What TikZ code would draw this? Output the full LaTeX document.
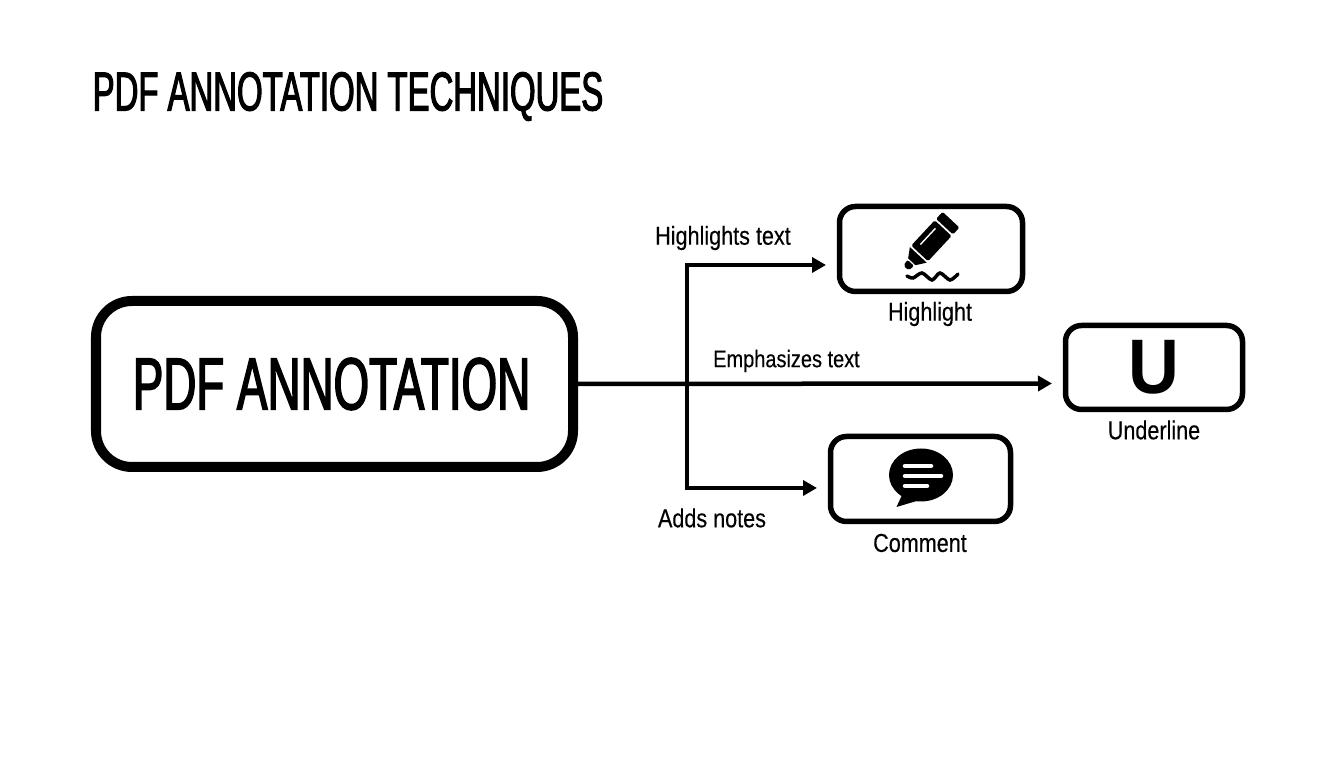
\documentclass[tikz,border=0pt]{standalone}
\usepackage{fontspec}
\setmainfont[FakeStretch=0.83, FakeBold=0.25]{Liberation Sans}
\newfontfamily\titlefont[FakeStretch=0.60, FakeBold=2]{Liberation Sans}
\newfontfamily\boxfont[FakeStretch=0.62, FakeBold=2]{Liberation Sans}
\newfontfamily\letterfont[FakeStretch=0.91]{Liberation Sans Bold}
\usetikzlibrary{arrows.meta}
\tikzset{
	bigbox/.style={draw=black, line width=0.1cm, rounded corners=0.36cm, minimum width=4.77cm, minimum height=1.66cm, inner sep=0pt, outer sep=0pt, fill=white},
	iconbox/.style={draw=black, line width=0.055cm, rounded corners=0.16cm, inner sep=0pt, outer sep=0pt, fill=white},
	link/.style={line width=0.045cm, -{Triangle[length=0.14cm, width=0.15cm]}},
	boxlabel/.style={font=\fontsize{7.4pt}{9pt}\selectfont, inner sep=0pt, text=black}
}
\begin{document}
\begin{tikzpicture}
		\useasboundingbox[fill=white] (0, 0) rectangle (13.44, 7.68);
		%%draw the title
		\node[font=\titlefont\fontsize{15.6pt}{18pt}\selectfont, inner sep=0pt, anchor=west] (title) at (0.92, 6.715){PDF ANNOTATION TECHNIQUES};

		%%draw the boxes
		\node[bigbox] (main) at (3.345, 3.84){};
			\node[font=\boxfont\fontsize{21pt}{24pt}\selectfont, inner sep=0pt] (mainname) at (3.315, 3.84){PDF ANNOTATION};
		\node[iconbox, minimum width=1.83cm, minimum height=0.85cm] (highlight) at (9.31, 5.19){};
			\node[boxlabel] (highlightname) at (9.30, 4.54){Highlight};
		\node[iconbox, minimum width=1.77cm, minimum height=0.84cm] (underline) at (11.54, 4.005){};
			\node[boxlabel] (underlinename) at (11.54, 3.38){Underline};
		\node[iconbox, minimum width=1.80cm, minimum height=0.85cm] (comment) at (9.205, 2.89){};
			\node[boxlabel] (commentname) at (9.20, 2.25){Comment};

		%%draw the connectors
		\coordinate (junction) at (6.87, 3.845);
		\coordinate (highlightend) at (8.26, 5.03);
		\coordinate (underlineend) at (10.52, 3.845);
		\coordinate (commentend) at (8.17, 2.80);
		\draw[link] (main.east) to (underlineend);
		\draw[link] (junction) |- (highlightend);
		\draw[link] (junction) |- (commentend);
			\node[boxlabel] (highlightnote) at (7.23, 5.30){Highlights text};
			\node[boxlabel, font=\fontsize{6.85pt}{9pt}\selectfont] (underlinenote) at (7.865, 4.07){Emphasizes text};
			\node[boxlabel] (commentnote) at (7.12, 2.50){Adds notes};

		%%draw the pen
		\begin{scope}[shift={(9.06, 5.00)}, rotate=47]
			\fill[rounded corners=0.02cm] (0, -0.035) -- (0.07, -0.045) -- (0.07, 0.045) -- (0, 0.035) -- cycle;
			\fill (0.085, -0.05) -- (0.18, -0.115) -- (0.18, 0.115) -- (0.085, 0.05) -- cycle;
			\fill[rounded corners=0.015cm] (0.20, -0.115) rectangle (0.545, 0.115);
			\fill[rounded corners=0.015cm] (0.565, -0.115) rectangle (0.66, 0.115);
			\draw[white, line width=0.014cm] (0.27, 0.055) -- (0.49, 0.055);
		\end{scope}
		\draw[line width=0.035cm, line cap=round] plot[smooth] coordinates {(9.07, 4.92) (9.13, 4.90) (9.22, 4.95) (9.32, 4.88) (9.40, 4.95) (9.50, 4.88) (9.58, 4.94)};

		%%draw the letter
		\node[font=\letterfont\fontsize{22pt}{24pt}\selectfont, inner sep=0pt] (letter) at (11.535, 4.01){U};

		%%draw the speech bubble
		\fill (9.21, 2.93) ellipse (0.32 and 0.265);
		\fill (9.03, 2.75) -- (8.965, 2.61) -- (9.20, 2.68) -- cycle;
		\draw[white, line width=0.045cm, line cap=round] (9.05, 3.02) -- (9.31, 3.02);
		\draw[white, line width=0.045cm, line cap=round] (9.05, 2.92) -- (9.41, 2.92);
		\draw[white, line width=0.045cm, line cap=round] (9.05, 2.82) -- (9.27, 2.82);
	\end{tikzpicture}
\end{document}
